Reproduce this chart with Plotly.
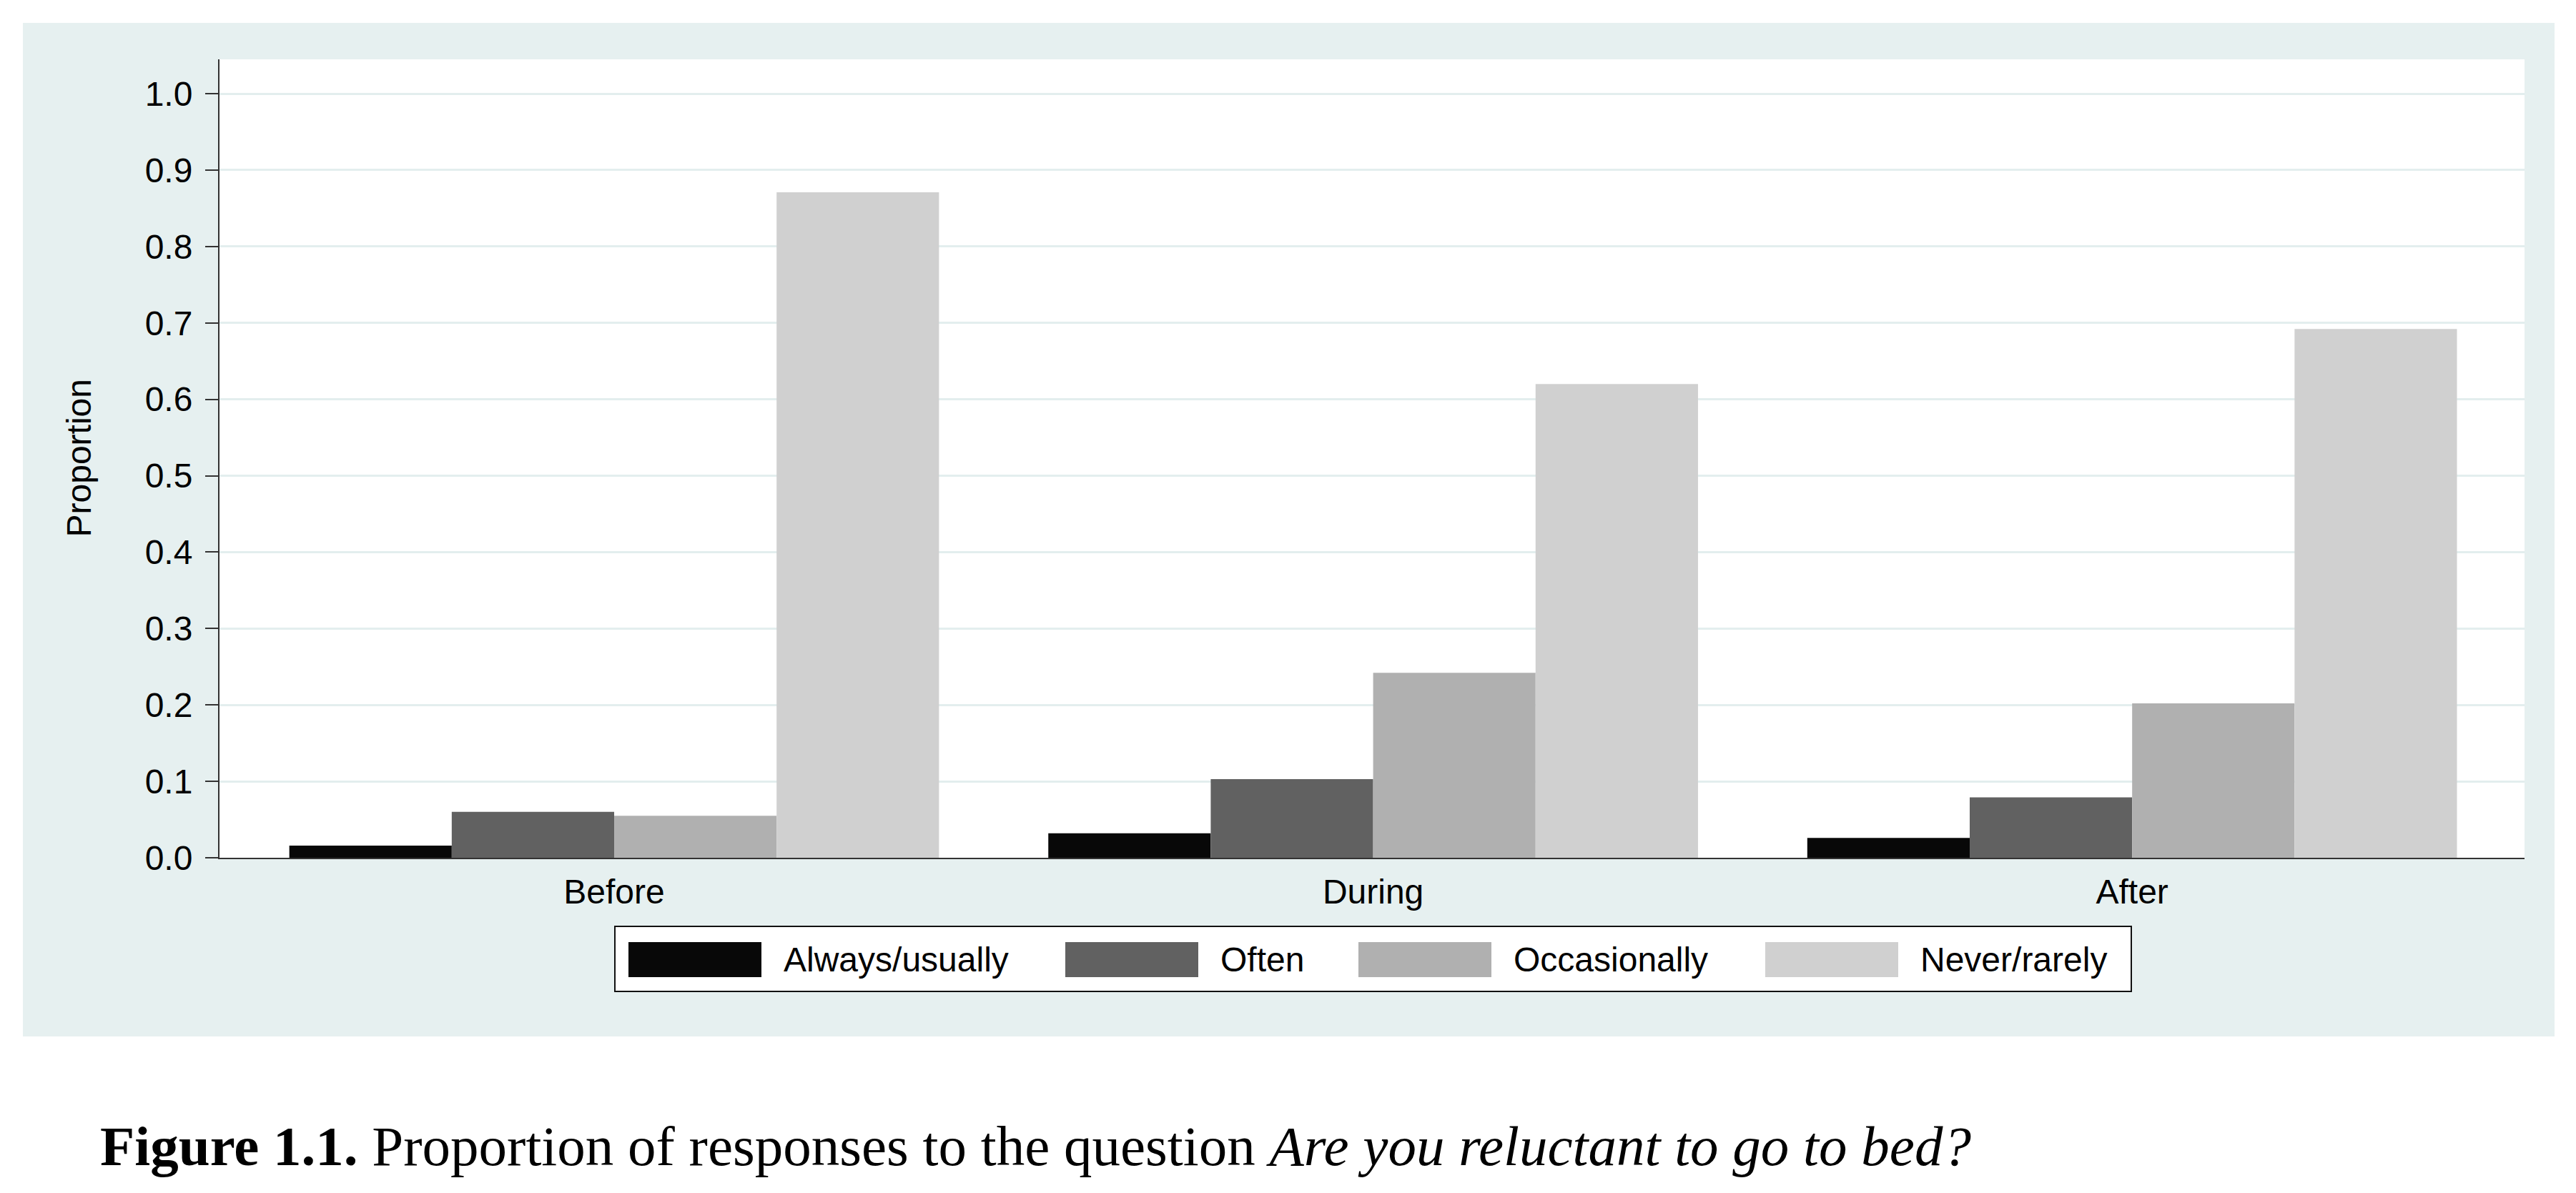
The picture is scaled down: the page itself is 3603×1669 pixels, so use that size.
import plotly.graph_objects as go

# ---------------- data ----------------
categories = ["Before", "During", "After"]
series_names = ["Always/usually", "Often", "Occasionally", "Never/rarely"]
always_usually = [0.016, 0.032, 0.026]
often = [0.060, 0.103, 0.079]
occasionally = [0.055, 0.242, 0.202]
never_rarely = [0.871, 0.620, 0.692]
y_ticks = [0.0, 0.1, 0.2, 0.3, 0.4, 0.5, 0.6, 0.7, 0.8, 0.9, 1.0]
y_title = "Proportion"
caption = ("<b>Figure 1.1.</b> Proportion of responses to the question "
           "<i>Are you reluctant to go to bed?</i>")

series_values = [always_usually, often, occasionally, never_rarely]

# ---------------- style ----------------
colors = ["#080808", "#616161", "#b0b0b0", "#d0d0d0"]
PANEL = "#e6f0f0"
GRID = "#e3eeee"
AXIS = "#333333"
SANS = "Arial, Liberation Sans, sans-serif"
SERIF = "Liberation Serif, Times New Roman, serif"

W, H = 3603, 1669
L, R, T, B = 307, 3531, 83, 1200  # plot area in pixels
PW, PH = R - L, B - T


def px(x):
    return (x - L) / PW


def py(y):
    return (B - y) / PH


fig = go.Figure()
for name, vals, col in zip(series_names, series_values, colors):
    fig.add_trace(go.Bar(
        x=categories, y=vals, name=name,
        marker=dict(color=col, line=dict(width=0)),
        showlegend=False,
    ))

shapes = []
# outer graph region panel
shapes.append(dict(type="rect", xref="paper", yref="paper",
                   x0=px(32), x1=px(3573), y0=py(1450), y1=py(32),
                   fillcolor=PANEL, line=dict(width=0), layer="below"))
# white plot region
shapes.append(dict(type="rect", xref="paper", yref="paper",
                   x0=0, x1=1, y0=0, y1=1,
                   fillcolor="white", line=dict(width=0), layer="below"))

# manual legend (large swatches like the original)
leg_box = (860, 2981, 1296, 1387)
shapes.append(dict(type="rect", xref="paper", yref="paper",
                   x0=px(leg_box[0]), x1=px(leg_box[1]),
                   y0=py(leg_box[3]), y1=py(leg_box[2]),
                   fillcolor="white", line=dict(color="#111111", width=2),
                   layer="above"))
swatch_x = [879, 1490, 1900, 2469]
swatch_w = 186
text_gap = 29
sw_top, sw_bot = 1318, 1367
annotations = []
for name, col, sx in zip(series_names, colors, swatch_x):
    shapes.append(dict(type="rect", xref="paper", yref="paper",
                       x0=px(sx), x1=px(sx + swatch_w),
                       y0=py(sw_bot), y1=py(sw_top),
                       fillcolor=col, line=dict(width=0), layer="above"))
    annotations.append(dict(
        xref="paper", yref="paper", x=px(sx + swatch_w + text_gap),
        y=py((sw_top + sw_bot) / 2), xanchor="left", yanchor="middle",
        text=name, showarrow=False,
        font=dict(family=SANS, size=48, color="black")))

# y-axis title
annotations.append(dict(
    xref="paper", yref="paper", x=px(110), y=0.5, xanchor="center",
    yanchor="middle", text=y_title, textangle=-90, showarrow=False,
    font=dict(family=SANS, size=48, color="black")))

# caption
annotations.append(dict(
    xref="paper", yref="paper", x=px(138), y=py(1603), xanchor="left",
    yanchor="middle", text=caption, showarrow=False,
    font=dict(family=SERIF, size=79, color="black")))

fig.update_layout(
    width=W, height=H,
    margin=dict(l=L, r=W - R, t=T, b=H - B, pad=0),
    paper_bgcolor="white",
    plot_bgcolor="white",
    barmode="group",
    bargap=0.144,
    bargroupgap=0,
    shapes=shapes,
    annotations=annotations,
    showlegend=False,
    xaxis=dict(
        type="category",
        range=[-0.52, 2.517],
        showgrid=False,
        zeroline=False,
        showline=True, linecolor=AXIS, linewidth=2,
        ticks="", ticklabelstandoff=4,
        tickfont=dict(family=SANS, size=48, color="black"),
        fixedrange=True,
    ),
    yaxis=dict(
        range=[0, 1.0449],
        tickvals=y_ticks,
        ticktext=[f"{v:.1f}" for v in y_ticks],
        showgrid=True, gridcolor=GRID, gridwidth=3,
        zeroline=False,
        showline=True, linecolor=AXIS, linewidth=2,
        ticks="outside", ticklen=18, tickwidth=2, tickcolor=AXIS,
        ticklabelstandoff=8,
        tickfont=dict(family=SANS, size=48, color="black"),
        fixedrange=True,
    ),
)

fig.write_html(
    "out.html",
    config={"displayModeBar": False},
    post_script="document.body.style.margin='0';document.body.style.overflow='hidden';",
)
